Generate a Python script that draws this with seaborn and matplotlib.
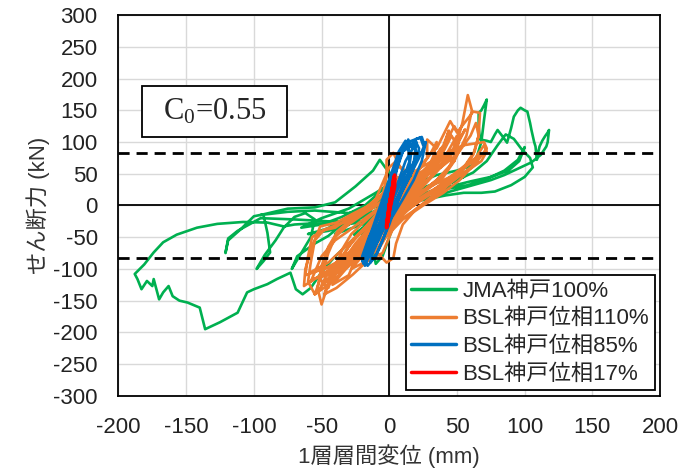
import matplotlib
matplotlib.use("Agg")
import matplotlib.pyplot as plt
import seaborn as sns
from matplotlib.patches import Rectangle

# ---------------- data: (displacement mm, shear kN) ----------------
jma_pts = [
    (0, 0), (6, 22), (12, 40), (18, 46), (8, 28), (-4, -8), (-15, -30), (-26, -46), (-12, -22), (4, 8),
    (20, 35), (35, 48), (50, 55), (60, 62), (55, 45), (40, 30), (20, 14), (0, -6), (-20, -30), (-40, -45),
    (-30, -30), (-12, -10), (10, 16), (30, 32), (48, 45), (58, 55), (64, 72), (68, 100), (70, 135),
    (72, 167), (70, 158), (68, 150), (66, 146), (66, 125), (67, 104), (72, 102), (75, 100), (78, 112),
    (80, 119), (84, 108), (87, 99), (90, 122), (92, 140), (95, 150), (97, 154), (100, 150), (102, 148),
    (104, 130), (105, 119), (107, 100), (108, 93), (109, 72), (110, 84), (111, 93), (113, 102), (115, 109),
    (117, 115), (118, 119), (117, 100), (116, 93), (112, 80), (105, 68), (95, 58), (85, 48), (75, 40),
    (65, 34), (55, 28), (45, 22), (35, 16), (25, 10), (15, 4), (28, 10), (42, 16), (55, 20), (68, 20),
    (78, 22), (90, 32), (100, 45), (106, 60), (104, 75), (98, 88), (92, 105), (86, 112), (80, 95),
    (72, 70), (62, 52), (50, 40), (38, 28), (28, 20), (42, 26), (58, 32), (72, 42), (85, 55), (95, 72),
    (100, 92), (96, 70), (88, 55), (75, 45), (60, 38), (45, 30), (30, 20), (15, 8), (5, -2),
    (-10, -20), (-25, -28), (-40, -30), (-55, -28), (-70, -30), (-78, -33), (-90, -27), (-108, -26),
    (-127, -29), (-142, -35), (-157, -46), (-167, -58), (-174, -74), (-181, -93), (-188, -108),
    (-186, -116), (-183, -132), (-179, -119), (-175, -127), (-174, -116), (-170, -148), (-167, -137),
    (-163, -127), (-160, -143), (-155, -150), (-149, -153), (-140, -161), (-136, -195), (-125, -184),
    (-112, -169), (-105, -137), (-100, -132), (-90, -124), (-83, -116), (-73, -106), (-69, -132),
    (-64, -140), (-58, -130), (-50, -105), (-42, -85), (-35, -70), (-25, -50), (-15, -35), (-5, -15),
    (5, 10), (0, -5), (-20, -25), (-45, -25), (-70, -22), (-95, -20), (-112, -40), (-119, -52),
    (-121, -75), (-119, -55), (-110, -38), (-100, -17), (-93, -14), (-90, -43), (-88, -74), (-93, -88),
    (-98, -100), (-92, -78), (-84, -55), (-78, -35), (-70, -18), (-62, -12), (-55, -22), (-58, -50),
    (-65, -75), (-72, -100), (-68, -80), (-55, -60), (-45, -48), (-35, -30), (-25, -10), (-12, 5),
    (0, 20), (-8, -5), (-20, -45), (-12, -70), (-10, -92), (-5, -80), (0, -50), (5, -20), (10, 10),
    (15, 30), (5, 15), (-5, 0), (-30, -12), (-55, -8), (-75, -10), (-95, -15), (-75, -5), (-55, -3),
    (-40, 5), (-25, 30), (-12, 55), (-7, 72), (-3, 60), (5, 40), (-10, 20), (-30, -5), (-50, -20),
    (-65, -35), (-50, -30), (-35, -18), (-18, 0), (-5, 25), (2, 45), (-2, 20), (-15, -10), (-30, -30),
    (-45, -40), (-60, -45), (-48, -38), (-30, -22), (-15, -5), (0, 10),
]

bsl110_pts = [
    (0, 0), (8, 20), (15, 35), (10, 20), (-2, -8), (-12, -30), (-22, -55), (-14, -40), (-2, -10),
    (10, 15), (22, 40), (30, 60), (38, 90), (35, 70), (25, 40), (12, 10), (0, -20), (-15, -50),
    (-30, -80), (-42, -115), (-38, -95), (-30, -65), (-20, -40), (-8, -15), (5, 10), (18, 30), (32, 55),
    (45, 75), (50, 100), (54, 130), (58, 174), (61, 150), (57, 110), (48, 70), (35, 40), (20, 15),
    (5, -10), (-10, -40), (-28, -75), (-42, -105), (-50, -156), (-53, -130), (-50, -95), (-45, -65),
    (-38, -40), (-28, -22), (-15, -5), (-5, 15), (-2, 45), (-2, 72), (3, 83), (8, 60), (18, 48),
    (28, 75), (28, 104), (35, 90), (45, 133), (50, 115), (62, 148), (67, 146), (66, 110), (62, 80),
    (52, 50), (40, 25), (25, 2), (10, -20), (-5, -50), (-20, -80), (-38, -105), (-55, -115), (-63, -127),
    (-62, -100), (-57, -65), (-51, -33), (-39, -27), (-27, -13), (-15, 0), (-7, 15), (0, 30), (12, 45),
    (25, 62), (40, 80), (55, 95), (70, 100), (72, 90), (65, 70), (52, 40), (40, 20), (25, 0), (10, -22),
    (-5, -55), (-15, -85), (-27, -109), (-39, -130), (-48, -140), (-45, -120), (-35, -90), (-25, -60),
    (-15, -35), (-5, -10), (5, 15), (15, 35), (28, 55), (42, 80), (50, 110), (47, 85), (38, 60),
    (25, 30), (12, 5), (0, -25), (-15, -60), (-2, -90), (3, -83), (5, -60), (10, -30), (20, -5),
    (35, 20), (48, 40), (60, 60), (68, 80), (60, 70), (45, 45), (30, 20), (15, -5), (0, -35), (-20, -70),
    (-35, -100), (-50, -125), (-45, -105), (-35, -80), (-25, -50), (-12, -25), (0, 0), (12, 25),
    (25, 45), (38, 70), (50, 95), (56, 120), (48, 90), (35, 55), (20, 25), (5, -5), (-10, -35),
    (-25, -65), (-40, -95), (-58, -120), (-50, -80), (-40, -55), (-30, -40), (-18, -20), (-5, 0),
    (8, 20), (20, 35), (0, 0),
    (-55, -140), (-50, -110), (-45, -75), (-40, -50), (-30, -30), (-18, -12), (-5, 5), (5, 25),
    (15, 40), (25, 55), (35, 75), (42, 100), (48, 125), (52, 110), (50, 85), (44, 60), (35, 40),
    (22, 18), (10, -5), (0, -25), (-10, -50), (-22, -80), (-35, -105), (-45, -125), (-55, -140),
    (-60, -120), (-58, -90), (-55, -55), (-48, -38), (-35, -28), (-22, -15), (-10, 0), (0, 15),
    (10, 30), (22, 48), (32, 65), (40, 85), (46, 110), (50, 95), (48, 70), (40, 45), (28, 25),
    (15, 5), (2, -20), (-10, -45), (-25, -75), (-40, -100), (-52, -115), (-45, -130), (-40, -100),
    (-35, -70), (-28, -45), (-18, -25), (-8, -5), (2, 15), (12, 30), (25, 45), (38, 60), (50, 80),
    (60, 110), (64, 130), (66, 110), (63, 85), (55, 60), (45, 40), (32, 20), (18, 0), (5, -20),
    (-8, -45), (-20, -75), (-32, -100), (-42, -125), (-30, -110), (-25, -85), (-20, -60), (-12, -35),
    (-5, -15), (3, 10), (12, 30), (20, 50), (30, 80), (35, 100), (33, 80), (28, 55), (20, 30),
    (10, 5), (0, -20), (-10, -50), (-20, -80), (-28, -100), (-5, -75), (0, -50), (5, -25), (12, 0),
    (22, 20), (35, 35), (50, 50), (62, 70), (70, 95), (72, 85), (68, 70), (58, 55), (45, 40),
    (30, 22), (18, 5), (8, -15), (0, -40), (-8, -70), (-62, -110), (-60, -80), (-57, -50), (-50, -40),
    (-40, -35), (-30, -20), (-20, -8), (-10, 10), (-4, 40), (0, 60), (5, 70), (10, 55), (8, 30),
    (0, 0), (-10, -30), (-22, -60), (-35, -85), (-48, -100), (-58, -105), (-45, -90), (-30, -60),
    (-18, -35), (-8, -10), (0, 20), (6, 45), (15, 40), (25, 50), (32, 70), (40, 95), (44, 118),
    (40, 90), (30, 60), (18, 30), (5, 0), (-8, -30), (-18, -55), (-30, -85), (-42, -110),
]

bsl85_pts = [
    (0, 0), (5, 20), (10, 40), (15, 70), (14, 104), (17, 90), (20, 105), (23, 107), (25, 95), (27, 100),
    (24, 70), (18, 40), (10, 10), (3, -15), (-5, -40), (-12, -70), (-19, -90), (-20, -80), (-15, -50),
    (-8, -20), (-2, 10), (3, 40), (8, 75), (12, 95), (16, 80), (14, 50), (8, 20), (0, -10), (-8, -40),
    (-15, -65), (-18, -95), (-14, -75), (-10, -45), (-4, -10), (2, 25), (6, 60), (10, 85), (20, 100),
    (18, 65), (12, 35), (4, 5), (-4, -25), (-12, -60), (-16, -80), (-10, -60), (-3, -30), (3, 0),
    (10, 30), (16, 60), (22, 85), (17, 55), (10, 25), (2, -5), (-6, -35), (-13, -65), (-17, -85),
    (-11, -55), (-5, -30), (0, -5), (6, 30), (12, 55),
    (-19, -92), (-17, -65), (-13, -40), (-9, -15), (-5, 10), (-1, 35), (3, 60), (7, 85), (12, 102),
    (16, 95), (19, 103), (22, 90), (20, 70), (15, 45), (9, 20), (4, -5), (0, -30), (-5, -55),
    (-10, -80), (-16, -95), (-18, -88), (-15, -60), (-11, -35), (-7, -10), (-3, 15), (1, 40), (5, 65),
    (9, 88), (14, 100), (24, 108), (26, 95), (22, 75), (16, 50), (10, 25), (5, 0), (0, -25), (-4, -50),
    (-9, -75), (-14, -90), (-12, -70), (-8, -45), (-3, -20), (2, 10), (7, 40), (12, 70), (18, 92),
    (21, 80), (17, 60), (11, 35), (5, 8), (-1, -20), (-7, -50), (-13, -78), (-20, -88), (-16, -70),
    (-12, -48), (-6, -22), (-1, 5), (4, 30), (0, 0),
]

bsl17_pts = [
    (0, 0), (2, 20), (4, 43), (4, 30), (2, 10), (0, -10), (-2, -35), (-1, -20), (0, 0), (3, 35),
    (1, 10), (-1, -25), (-2, -30), (0, -5), (2, 15), (3, 40), (4, 48), (2, 25), (0, 0), (-1, -15),
    (-2, -33), (1, 5), (3, 30), (0, 0),
]

series_names = ["JMA神戸100%", "BSL神戸位相110%", "BSL神戸位相85%", "BSL神戸位相17%"]
series_colors = ["#00B050", "#ED7D31", "#0070C0", "#FF0000"]
x_ticks = list(range(-200, 201, 50))
y_ticks = list(range(-300, 301, 50))
c0_label = "C$_0$=0.55"
limit_level = 83
x_label = "1層層間変位 (mm)"
y_label = "せん断力 (kN)"

# ---------------- plotting ----------------
sns.set_theme(style="white")
plt.rcParams["font.family"] = ["Liberation Sans", "Noto Sans CJK JP"]
plt.rcParams["axes.unicode_minus"] = False
plt.rcParams["mathtext.fontset"] = "custom"
plt.rcParams["mathtext.rm"] = "Liberation Serif"
plt.rcParams["mathtext.it"] = "Liberation Serif"

fig = plt.figure(figsize=(6.97, 4.74), dpi=100)
ax = fig.add_axes([0.170, 0.165, 0.777, 0.803])

ax.grid(True, color="#D9D9D9", lw=1.0)
ax.set_axisbelow(True)
ax.axhline(0, color="black", lw=1.3, zorder=1)
ax.axvline(0, color="black", lw=1.3, zorder=1)

all_pts = [jma_pts, bsl110_pts, bsl85_pts, bsl17_pts]
widths = [1.9, 1.9, 1.9, 2.6]
for pts, name, col, w in zip(all_pts, series_names, series_colors, widths):
    xs = [p[0] for p in pts]
    ys = [p[1] for p in pts]
    sns.lineplot(x=xs, y=ys, sort=False, estimator=None, color=col, lw=w,
                 label=name, ax=ax, zorder=3)

ax.axhline(limit_level, color="black", lw=2.0, ls=(0, (4, 2.5)), zorder=5)
ax.axhline(-limit_level, color="black", lw=2.0, ls=(0, (4, 2.5)), zorder=5)

ax.set_xlim(-200, 200)
ax.set_ylim(-300, 300)
ax.set_xticks(x_ticks)
ax.set_yticks(y_ticks)
ax.tick_params(axis="both", length=0, labelsize=16, colors="#222222")
ax.tick_params(axis="x", pad=15)
ax.tick_params(axis="y", pad=15)
for s in ax.spines.values():
    s.set_color("black")
    s.set_linewidth(1.3)

ax.set_xlabel(x_label, fontsize=16, color="#333333")
ax.set_ylabel(y_label, fontsize=16, color="#333333")
ax.xaxis.set_label_coords(0.5, -0.128)
ax.yaxis.set_label_coords(-0.127, 0.5)

# C0 box
ax.add_patch(Rectangle((0.043, 0.679), 0.269, 0.136, transform=ax.transAxes,
                       facecolor="white", edgecolor="black", lw=1.3, zorder=6))
ax.text(0.177, 0.747, c0_label, transform=ax.transAxes, ha="center", va="center",
        fontsize=22, family="Liberation Serif", zorder=7)

leg = ax.legend(loc="lower right", fontsize=16, frameon=True, fancybox=False,
                framealpha=1, edgecolor="black", handlelength=2.0, handletextpad=0.3,
                borderaxespad=0.25, borderpad=0.25, labelspacing=0.3)
leg.get_frame().set_linewidth(1.3)
leg.set_zorder(8)
for line in leg.get_lines():
    line.set_linewidth(2.5)

fig.savefig("out.png", dpi=100)
